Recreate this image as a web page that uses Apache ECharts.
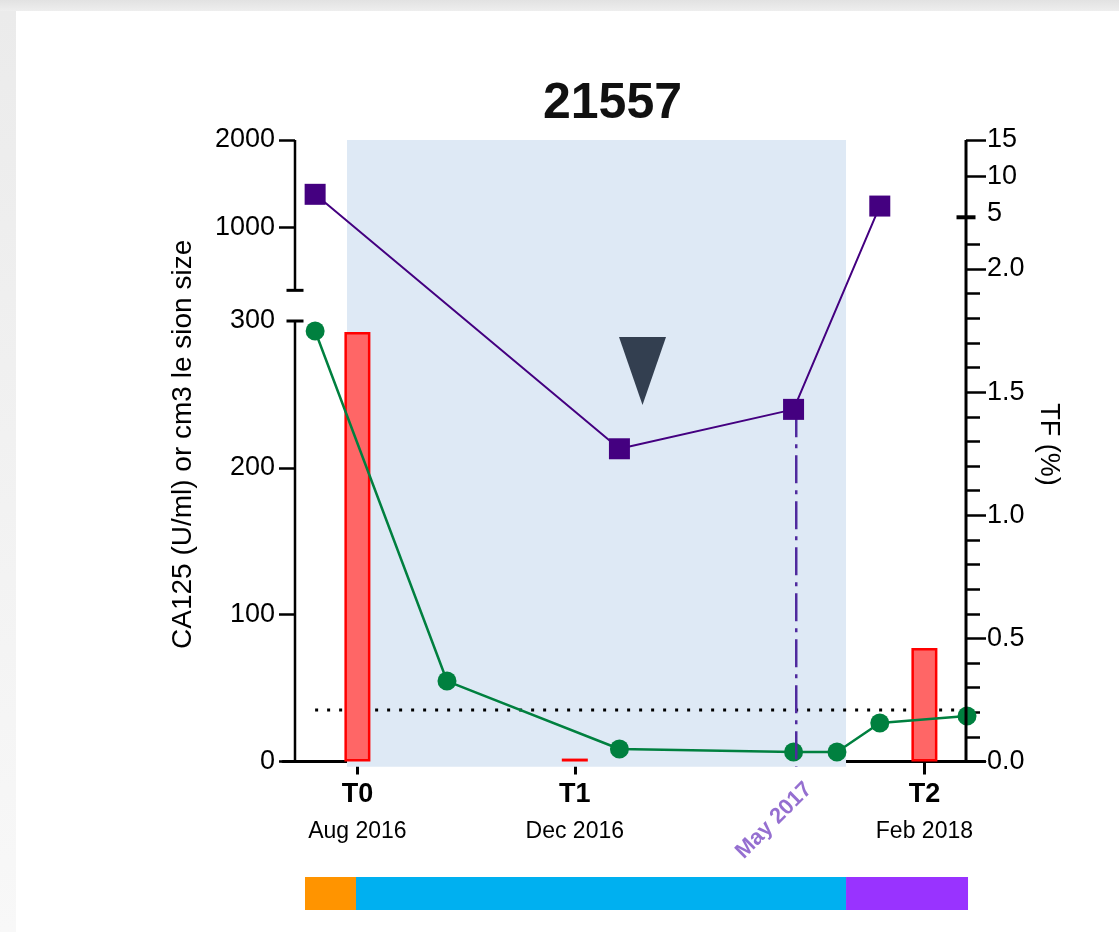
<!DOCTYPE html>
<html><head><meta charset="utf-8">
<script src="https://cdn.jsdelivr.net/npm/echarts@6/dist/echarts.min.js"></script>
<style>
html,body{margin:0;padding:0;width:1119px;height:932px;overflow:hidden;background:#fff;}
#topband{position:absolute;left:0;top:0;width:1119px;height:11px;background:linear-gradient(#e2e2e2,#eeeeee);}
#leftband{position:absolute;left:0;top:11px;width:16px;height:921px;background:linear-gradient(#ebebeb,#f8f8f8);}
#chart{position:absolute;left:0;top:0;width:1119px;height:932px;}
</style></head><body>
<div id="topband"></div><div id="leftband"></div><div id="chart"></div>
<script>
// ---------------- data ----------------
const chartTitle = '21557';
const timepoints = ['T0', 'T1', 'T2'];
const timepointDates = ['Aug 2016', 'Dec 2016', 'Feb 2018'];
const timepointX = [9.3, 41.7, 93.8];            // position on the (non-linear) time axis
const lesionSize = [292.5, 2, 77.3];             // red bars (cm3)
const sampleX = [3.0, 22.65, 48.35, 74.3, 80.77, 87.15, 100.15];
const ca125 = [293.2, 54.8, 8.5, 6.5, 6.5, 26.2, 31.0];   // green line (U/ml)
const tfX = [3.0, 48.35, 74.3, 87.15];
const tfPercent = [7.6, 1.27, 1.43, 6.0];        // purple line (TF %)
const ca125Cutoff = 35;
const cutoffSpan = [3.0, 100.15];
const treatmentPeriod = [7.75, 82.12];
const progressionX = 74.7;
const progressionLabel = 'May 2017';
const eventMarker = [51.79, 266];                // x, CA125-scale value
const phaseBounds = [1.49, 9.09, 82.12, 100.3];
const leftTickValues = [0, 100, 200, 1000, 2000];
const leftLabelValues = [0, 100, 200, 300, 1000, 2000];
const rightMajorTicks = [0, 0.5, 1.0, 1.5, 2.0, 10, 15];
const rightLabelValues = [0, 0.5, 1.0, 1.5, 2.0, 5, 10, 15];
const rightLabelTexts = ['0.0', '0.5', '1.0', '1.5', '2.0', '5', '10', '15'];
const rightMinorTicks = [0.1,0.2,0.3,0.4,0.6,0.7,0.8,0.9,1.1,1.2,1.3,1.4,1.6,1.7,1.8,1.9,2.1];

// ---------------- piecewise (broken) axis scales ----------------
const Y_MIN = -0.0085;
const L_LOW_TOP = 300, L_LOW_FRAC = 0.70877;       // 0..300 -> 0..0.70877
const L_UP_A = 1000, L_UP_A_FRAC = 0.85953;        // upper segment through 1000 and 2000
const L_UP_B = 2000, L_UP_B_FRAC = 1.0;
const L_UP_START = 278;
function dLeftLower(v) { return v * L_LOW_FRAC / L_LOW_TOP; }
function dLeftUpper(v) { return L_UP_A_FRAC + (v - L_UP_A) * (L_UP_B_FRAC - L_UP_A_FRAC) / (L_UP_B - L_UP_A); }
function dLeft(v) { return v <= L_LOW_TOP ? dLeftLower(v) : dLeftUpper(v); }

const R_LOW_TOP = 2.21, R_LOW_SLOPE = 0.396219;
const R_UP_A = 5, R_UP_A_FRAC = 0.88190, R_UP_B = 15, R_UP_B_FRAC = 1.0;
function dRight(v) {
  return v <= R_LOW_TOP ? v * R_LOW_SLOPE
    : R_UP_A_FRAC + (v - R_UP_A) * (R_UP_B_FRAC - R_UP_A_FRAC) / (R_UP_B - R_UP_A);
}
function nearestIdx(arr, v) {
  let b = 0; for (let i = 1; i < arr.length; i++) if (Math.abs(arr[i] - v) < Math.abs(arr[b] - v)) b = i; return b;
}

const leftLabelD = leftLabelValues.map(dLeft);
const rightLabelD = rightLabelValues.map(dRight);

const FONT = "'Liberation Sans', Arial, sans-serif";
const GRID_LEFT = 282.92, GRID_RIGHT = 134.2;
const X_MIN = -1.8, X_MAX = 102.8;
const RIGHT_OFFSET = -(1119 - GRID_RIGHT - 966);

const chart = echarts.init(document.getElementById('chart'));
chart.setOption({
  animation: false,
  backgroundColor: 'transparent',
  textStyle: { fontFamily: FONT },
  title: {
    text: chartTitle, left: 538, top: 74,
    textStyle: { fontSize: 50, fontWeight: 'bold', color: '#111', fontFamily: FONT }
  },
  grid: [
    { left: GRID_LEFT, right: GRID_RIGHT, top: 140, bottom: 165.2, outerBoundsMode: 'none', containLabel: false },
    { left: GRID_LEFT, right: GRID_RIGHT, top: 877, height: 33, outerBoundsMode: 'none', containLabel: false }
  ],
  xAxis: [
    {
      gridIndex: 0, type: 'value', min: X_MIN, max: X_MAX,
      axisLine: { show: true, onZero: true, lineStyle: { color: '#000', width: 3 } },
      axisTick: { show: true, customValues: timepointX, length: 13, lineStyle: { color: '#000', width: 3 } },
      axisLabel: {
        show: true, customValues: timepointX, margin: 13, color: '#000',
        formatter: function (v) {
          const i = nearestIdx(timepointX, v);
          return '{a|' + timepoints[i] + '}\n{b|' + timepointDates[i] + '}';
        },
        rich: {
          a: { fontSize: 27, fontWeight: 'bold', lineHeight: 30, color: '#000', fontFamily: FONT },
          b: { fontSize: 23, lineHeight: 43, color: '#000', fontFamily: FONT }
        }
      },
      splitLine: { show: false }
    },
    { gridIndex: 1, type: 'value', min: X_MIN, max: X_MAX, show: false }
  ],
  yAxis: [
    {
      gridIndex: 0, type: 'value', position: 'left', offset: -(295 - GRID_LEFT),
      min: Y_MIN, max: 1,
      axisLine: { show: false },
      axisTick: { show: true, customValues: leftTickValues.map(dLeft), length: 16, lineStyle: { color: '#000', width: 2.5 } },
      axisLabel: {
        show: true, customValues: leftLabelD, margin: 20, fontSize: 27, color: '#000',
        formatter: function (v) { return String(leftLabelValues[nearestIdx(leftLabelD, v)]); }
      },
      splitLine: { show: false },
      name: 'CA125 (U/ml) or cm3 le sion size', nameLocation: 'middle', nameRotate: 90, nameGap: 98,
      nameTextStyle: { fontSize: 28, color: '#000', padding: [0, 0, 0, 18] }
    },
    {
      gridIndex: 0, type: 'value', position: 'right', offset: RIGHT_OFFSET,
      min: Y_MIN, max: 1,
      axisLine: { show: false },
      axisTick: { show: true, customValues: rightMajorTicks.map(dRight), length: 20, lineStyle: { color: '#000', width: 2.5 } },
      axisLabel: {
        show: true, customValues: rightLabelD, margin: 21, fontSize: 27, color: '#000',
        formatter: function (v) { return rightLabelTexts[nearestIdx(rightLabelD, v)]; }
      },
      splitLine: { show: false },
      name: 'TF (%)', nameLocation: 'middle', nameRotate: -90, nameGap: 64,
      nameTextStyle: { fontSize: 27, color: '#000', padding: [0, 18, 0, 0] }
    },
    {
      gridIndex: 0, type: 'value', position: 'right', offset: RIGHT_OFFSET,
      min: Y_MIN, max: 1,
      axisLine: { show: false },
      axisTick: { show: true, customValues: rightMinorTicks.map(dRight), length: 14, lineStyle: { color: '#000', width: 2.5 } },
      axisLabel: { show: false },
      splitLine: { show: false }
    },
    { gridIndex: 1, type: 'value', min: 0, max: 1, show: false }
  ],
  series: [
    { // treatment period shading
      type: 'line', xAxisIndex: 0, yAxisIndex: 0, data: [], silent: true, z: 1,
      markArea: {
        silent: true, itemStyle: { color: '#dee9f5', opacity: 1 },
        data: [[{ xAxis: treatmentPeriod[0] }, { xAxis: treatmentPeriod[1] }]]
      }
    },
    { // CA125 cutoff dotted line
      type: 'line', xAxisIndex: 0, yAxisIndex: 0, silent: true, z: 2, symbol: 'none',
      data: cutoffSpan.map(x => [x, dLeft(ca125Cutoff)]),
      lineStyle: { color: '#000', width: 3, type: [3, 9] }
    },
    { // lesion size bars
      type: 'bar', xAxisIndex: 0, yAxisIndex: 0, z: 3, barWidth: 26,
      data: timepointX.map((x, i) => [x, dLeft(lesionSize[i])]),
      itemStyle: { color: '#ff6666', borderColor: '#ff0000', borderWidth: 2.5, opacity: 1 }
    },
    { // CA125 green line
      type: 'line', xAxisIndex: 0, yAxisIndex: 0, z: 4,
      data: sampleX.map((x, i) => [x, dLeft(ca125[i])]),
      symbol: 'circle', symbolSize: 19,
      itemStyle: { color: '#00803f', opacity: 1 }, lineStyle: { color: '#00803f', width: 2.5 }
    },
    { // progression dash-dot line
      type: 'line', xAxisIndex: 0, yAxisIndex: 0, z: 5, symbol: 'none', silent: true,
      data: [[progressionX, dRight(tfPercent[2])], [progressionX, Y_MIN]],
      lineStyle: { color: '#4f2a9e', width: 2.5, type: [28, 7, 4, 7] }
    },
    { // TF purple line
      type: 'line', xAxisIndex: 0, yAxisIndex: 0, z: 6,
      data: tfX.map((x, i) => [x, dRight(tfPercent[i])]),
      symbol: 'rect', symbolSize: 21,
      itemStyle: { color: '#440080', opacity: 1 }, lineStyle: { color: '#440080', width: 2 }
    },
    { // event marker triangle
      type: 'scatter', xAxisIndex: 0, yAxisIndex: 0, z: 7, silent: true,
      data: [[eventMarker[0], dLeft(eventMarker[1])]],
      symbol: 'triangle', symbolRotate: 180, symbolSize: [47, 68],
      itemStyle: { color: '#333f50', opacity: 1 }
    },
    { // left axis lower segment
      type: 'line', xAxisIndex: 0, yAxisIndex: 0, z: 8, silent: true,
      data: [{ value: [0, 0], symbol: 'none' }, { value: [0, dLeftLower(L_LOW_TOP)], symbol: 'rect', symbolSize: [17, 3] }],
      itemStyle: { color: '#000', opacity: 1 }, lineStyle: { color: '#000', width: 2.5 }
    },
    { // left axis upper segment
      type: 'line', xAxisIndex: 0, yAxisIndex: 0, z: 8, silent: true,
      data: [{ value: [0, dLeftUpper(L_UP_START)], symbol: 'rect', symbolSize: [17, 3] }, { value: [0, 1], symbol: 'none' }],
      itemStyle: { color: '#000', opacity: 1 }, lineStyle: { color: '#000', width: 2.5 }
    },
    { // right axis with break mark
      type: 'line', xAxisIndex: 0, yAxisIndex: 0, z: 8, silent: true,
      data: [{ value: [100, 0], symbol: 'none' }, { value: [100, dRight(R_LOW_TOP)], symbol: 'rect', symbolSize: [19, 4] }, { value: [100, 1], symbol: 'none' }],
      itemStyle: { color: '#000', opacity: 1 }, lineStyle: { color: '#000', width: 3 }
    },
    { // progression date label
      type: 'scatter', xAxisIndex: 0, yAxisIndex: 0, z: 9, silent: true, clip: false,
      data: [[71.39, -0.095]], symbolSize: 0,
      label: {
        show: true, position: 'inside', rotate: 45, formatter: progressionLabel,
        fontSize: 22, fontWeight: 'bold', color: '#7b4bc4', fontFamily: FONT
      }
    },
    { // treatment phase strip
      type: 'line', xAxisIndex: 1, yAxisIndex: 3, data: [], silent: true,
      markArea: {
        silent: true,
        data: [
          [{ xAxis: phaseBounds[0], itemStyle: { color: '#ff9400', opacity: 1 } }, { xAxis: phaseBounds[1] }],
          [{ xAxis: phaseBounds[1], itemStyle: { color: '#00b0f0', opacity: 1 } }, { xAxis: phaseBounds[2] }],
          [{ xAxis: phaseBounds[2], itemStyle: { color: '#9933ff', opacity: 1 } }, { xAxis: phaseBounds[3] }]
        ]
      }
    }
  ]
});
</script>
</body></html>
